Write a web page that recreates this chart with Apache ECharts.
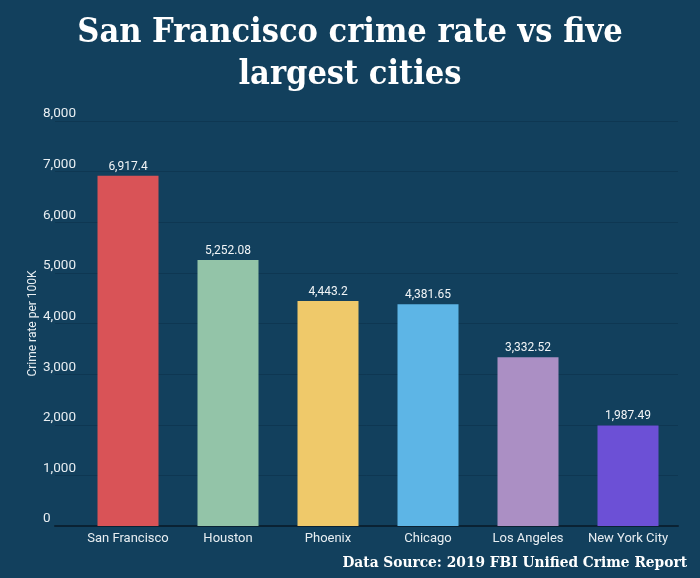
<!DOCTYPE html>
<html>
<head>
<meta charset="utf-8">
<script src="https://cdn.jsdelivr.net/npm/echarts@6/dist/echarts.min.js"></script>
<style>
  html, body { margin: 0; padding: 0; background: #12405d; }
  #chart { width: 700px; height: 578px; }
</style>
</head>
<body>
<div id="chart"></div>
<script>
    var cities = ['San Francisco', 'Houston', 'Phoenix', 'Chicago', 'Los Angeles', 'New York City'];
    var crimeRate = [6917.4, 5252.08, 4443.2, 4381.65, 3332.52, 1987.49];
    var barColors = ['#d95357', '#93c4a8', '#efc96a', '#5db5e6', '#ab8fc4', '#6c50d6'];
    var yTicks = [0, 8000, 1000]; // min, max, interval

    var chart = echarts.init(document.getElementById('chart'));

    function fmt(v) {
        return v.toLocaleString('en-US', { maximumFractionDigits: 2 });
    }

    var option = {
        backgroundColor: '#12405d',
        animation: false,
        title: [{
            text: 'San Francisco crime rate vs five\nlargest cities',
            left: 'center',
            top: 7,
            textStyle: {
                color: '#ffffff',
                fontFamily: 'DejaVu Serif Condensed',
                fontWeight: 'bold',
                fontSize: 34,
                lineHeight: 42
            }
        }, {
            text: 'Data Source: 2019 FBI Unified Crime Report',
            right: 8,
            top: 551,
            textStyle: {
                color: '#ffffff',
                fontFamily: 'DejaVu Serif Condensed',
                fontWeight: 'bold',
                fontSize: 15.3
            }
        }],
        grid: [
            // background grid: gridlines + y labels
            { left: 55, right: 22, top: 121, bottom: 52 },
            // bars
            { left: 78, right: 22, top: 121, bottom: 52 }
        ],
        xAxis: [{
            gridIndex: 0,
            type: 'value',
            min: 0,
            max: 1,
            axisLabel: { show: false },
            axisTick: { show: false },
            splitLine: { show: false },
            axisLine: { show: true, lineStyle: { color: '#0a2233', width: 2 } }
        }, {
            gridIndex: 1,
            type: 'category',
            data: cities,
            axisLine: { show: false },
            axisTick: { show: false },
            axisLabel: {
                interval: 0,
                color: '#e8eef2',
                fontFamily: 'Roboto',
                fontSize: 13,
                margin: 6
            }
        }],
        yAxis: [{
            gridIndex: 0,
            type: 'value',
            min: yTicks[0],
            max: yTicks[1],
            interval: yTicks[2],
            name: 'Crime rate per 100K',
            nameLocation: 'middle',
            nameRotate: 90,
            nameGap: 16,
            nameMoveOverlap: false,
            nameTextStyle: { color: '#e8eef2', fontFamily: 'Roboto', fontSize: 12 },
            axisLine: { show: false },
            axisTick: { show: false },
            axisLabel: {
                color: '#e8eef2',
                fontFamily: 'Roboto',
                fontSize: 13.5,
                align: 'left',
                verticalAlign: 'bottom',
                margin: 12,
                formatter: function (v) { return fmt(v); }
            },
            splitLine: { show: true, lineStyle: { color: '#0e3752', width: 1 } }
        }, {
            gridIndex: 1,
            type: 'value',
            min: yTicks[0],
            max: yTicks[1],
            interval: yTicks[2],
            show: false,
            splitLine: { show: false }
        }],
        series: [{
            type: 'bar',
            xAxisIndex: 1,
            yAxisIndex: 1,
            barWidth: 61,
            data: crimeRate.map(function (v, i) {
                return { value: v, itemStyle: { color: barColors[i] } };
            }),
            label: {
                show: true,
                position: 'top',
                distance: 3,
                color: '#f2f5f7',
                fontFamily: 'Roboto',
                fontSize: 12,
                formatter: function (p) { return fmt(p.value); }
            }
        }]
    };

    chart.setOption(option);
</script>
</body>
</html>
